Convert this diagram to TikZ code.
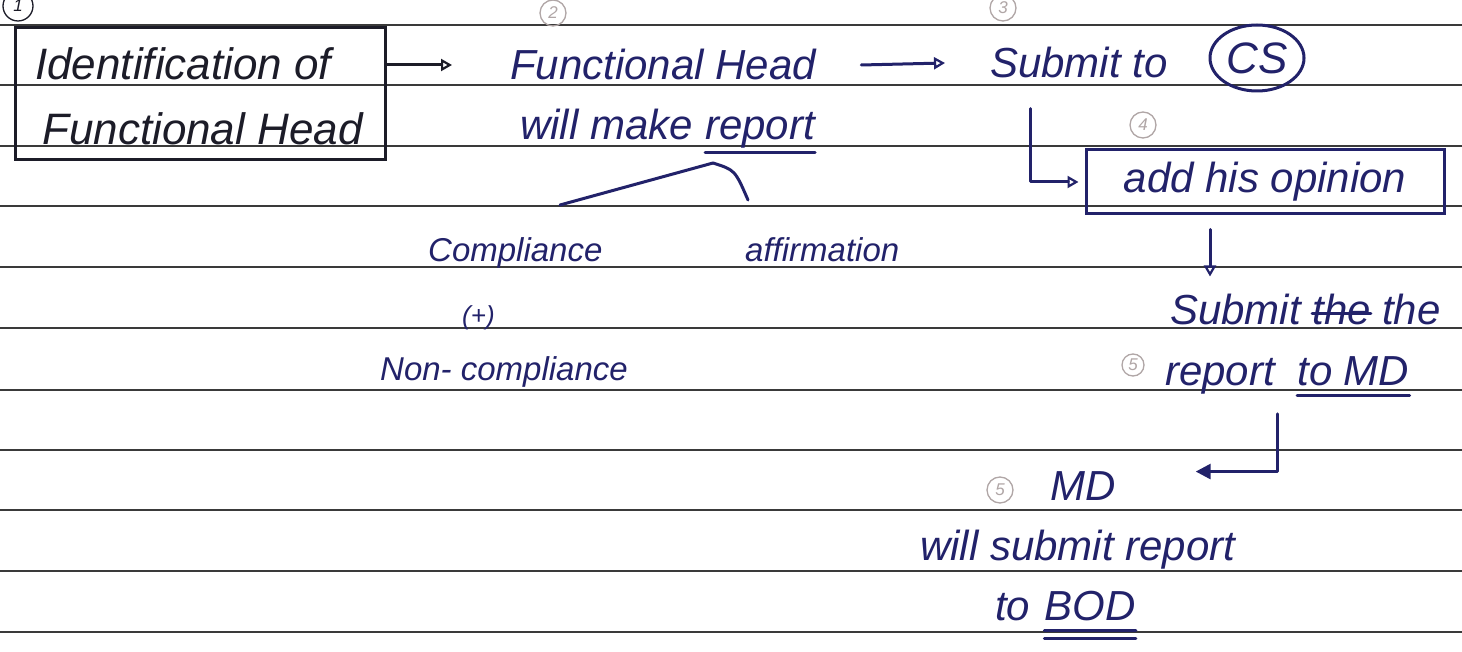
\documentclass[tikz,border=0pt]{standalone}
\usepackage{fontspec}
\setmainfont{Liberation Sans}
\usetikzlibrary{arrows.meta,shapes.geometric}
\definecolor{ink}{HTML}{22226A}
\definecolor{darkink}{HTML}{1C1C28}
\definecolor{ruleline}{HTML}{3A3A3A}
\definecolor{faint}{HTML}{B0A6A6}

\tikzset{
  hand/.style={font=\fontsize{42}{48}\selectfont\itshape, text=ink, inner sep=0pt, anchor=base west},
  small hand/.style={hand, font=\fontsize{33}{38}\selectfont\itshape},
  pen/.style={draw=ink, line width=3pt, line cap=round, line join=round},
  tipopen/.style={-{Triangle[open,length=11pt,width=12pt,line width=2.2pt]}},
  tipfull/.style={-{Triangle[length=15pt,width=15pt]}},
  numcirc/.style={circle, draw=faint, text=faint, line width=1.3pt, inner sep=1.5pt,
    minimum size=26pt, font=\fontsize{17}{19}\selectfont\itshape},
  ruling/.style={draw=ruleline, line width=2pt},
}

\begin{document}
\begin{tikzpicture}[x=1pt,y=-1pt]
\useasboundingbox (0,0) rectangle (1462,652);
\fill[white] (0,0) rectangle (1462,652);

% ruled notebook lines
\foreach \yy in {25,85,146,206,267,328,390,450,510,571,632}
  \draw[ruling] (0,\yy) -- (1462,\yy);

% step numbers
\node[numcirc, draw=darkink, text=darkink, minimum size=30pt] (c1) at (18,6) {1};
\node[numcirc] (c2) at (553,13) {2};
\node[numcirc] (c3) at (1003,8) {3};
\node[numcirc] (c4) at (1143,125) {4};
\node[numcirc, minimum size=22pt] (c5) at (1133,365) {5};
\node[numcirc] (c6) at (1000,490) {5};

% step 1: boxed heading
\node[draw=darkink, line width=3pt, minimum width=370pt, minimum height=132pt] (b1) at (200,94) {};
\node[hand, text=darkink, font=\fontsize{44}{50}\selectfont\itshape] (id1) at (35,80) {Identification of};
\node[hand, text=darkink, font=\fontsize{44}{50}\selectfont\itshape] (id2) at (42,145) {Functional Head};

% step 2
\node[hand] (fh) at (510,80) {Functional Head};
\node[hand] (wr) at (520,140) {will make};
\node[hand] (rp) at ([xshift=12pt]wr.base east) {report};
\draw[pen] ([yshift=-4pt]rp.south west) -- ([yshift=-4pt]rp.south east);

% branches
\coordinate (ap) at (713,163);
\coordinate (bl) at (560,205);
\coordinate (br) at (748,200);
\draw[pen] (ap) -- (bl);
\draw[pen] (ap) .. controls (735,170) .. (br);
\node[small hand] (comp) at (428,262) {Compliance};
\node[small hand] (aff) at (745,262) {affirmation};
\node[hand, font=\fontsize{26}{28}\selectfont\itshape] (plus) at (462,325) {(+)};
\node[small hand] (nc) at (380,380) {Non- compliance};

% step 3
\node[hand] (sub) at (990,78) {Submit to};
\node[ellipse, draw=ink, line width=3pt, minimum width=94pt, minimum height=66pt,
  font=\fontsize{44}{50}\selectfont\itshape, text=ink, inner sep=0pt] (cs) at (1257,58) {CS};

% step 4
\node[draw=ink, line width=3pt, minimum width=358pt, minimum height=64pt,
  font=\fontsize{42}{48}\selectfont\itshape, text=ink] (add) at (1265,182) {add his opinion};
\node[hand] (s2a) at (1170,325) {Submit};
\node[hand] (s2b) at ([xshift=11pt]s2a.base east) {the};
\node[hand] (s2c) at ([xshift=11pt]s2b.base east) {the};
\draw[pen] ([yshift=-4pt]s2b.west) -- ([yshift=-4pt]s2b.east);
\node[hand] (rep) at (1165,385) {report};
\node[hand] (tomd) at ([xshift=22pt]rep.base east) {to MD};
\draw[pen] ([yshift=-10pt]tomd.south west) -- ([yshift=-10pt]tomd.south east);

% step 5/6
\node[hand] (md) at (1050,500) {MD};
\node[hand] (ws) at (920,560) {will submit report};
\node[hand] (bto) at (995,620) {to};
\node[hand] (bod) at ([xshift=14pt]bto.base east) {BOD};
\draw[pen] ([yshift=-10pt]bod.south west) -- ([yshift=-10pt]bod.south east);
\draw[pen] ([yshift=-18pt]bod.south west) -- ([yshift=-18pt]bod.south east);

% connectors
\draw[pen, draw=darkink, tipopen] (b1.east |- fh.west) -- ([xshift=-58pt]fh.west);
\draw[pen, tipopen] ([xshift=45pt]fh.east) -- ([xshift=-45pt]sub.west);
\draw[pen, tipopen] ([xshift=40pt,yshift=-30pt]sub.south west) |- ([xshift=-6pt]add.west);
\coordinate (d1) at ([xshift=-55pt,yshift=-14pt]add.south);
\draw[pen, tipopen] (d1) -- ++(0,47);
\draw[pen, tipfull] ([xshift=112pt,yshift=-20pt]rep.south west) |- ([xshift=80pt,yshift=14pt]md.east);
\end{tikzpicture}
\end{document}
